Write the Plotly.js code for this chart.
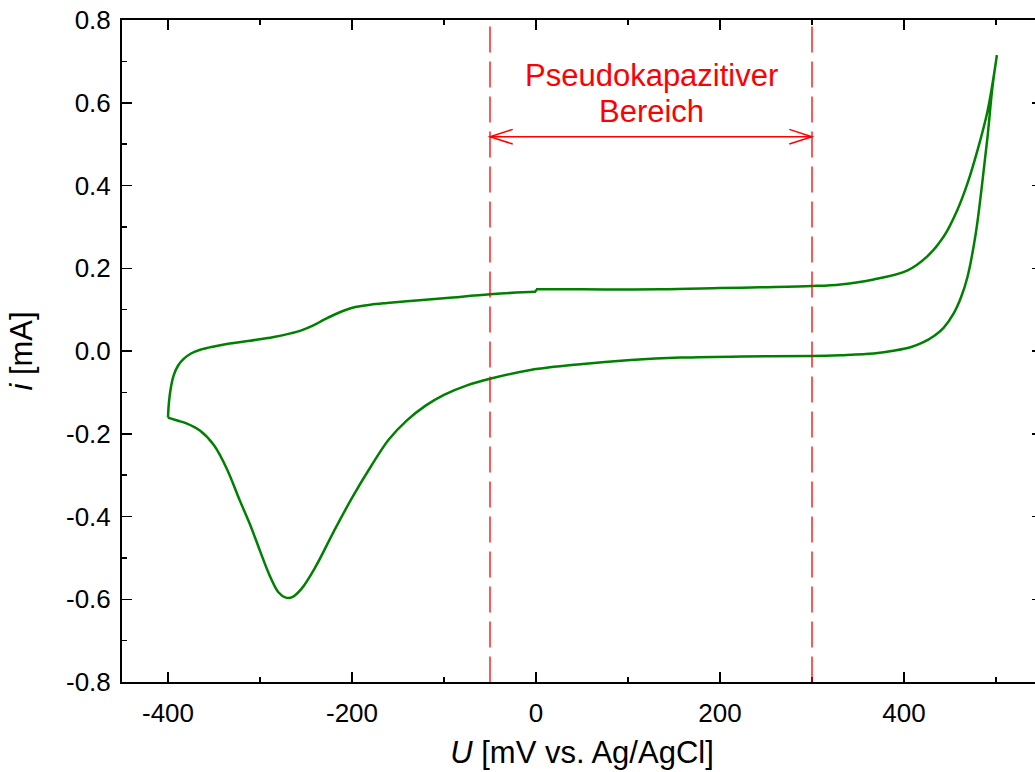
<!DOCTYPE html>
<html>
<head>
<meta charset="utf-8">
<script src="https://cdn.plot.ly/plotly-3.0.1.min.js"></script>
<style>
html, body { margin: 0; padding: 0; overflow: hidden; background: #fff; }
#chart { width: 1050px; height: 772px; }
</style>
</head>
<body>
<div id="chart"></div>
<script>
// Anodic sweep (-400 mV -> +500 mV); small current step at 0 mV
const anodicU = [-400, -399, -397, -394, -389, -383, -375, -365, -350, -333, -304, -285, -268, -255, -242, -231, -220, -207, -195, -180, -162, -130, -97, -50, -1,
                 0, 50, 135, 200, 244, 300, 331, 367, 404, 425, 443, 458, 469, 480, 491, 501];
const anodicI = [-0.161, -0.125, -0.090, -0.060, -0.035, -0.019, -0.006, 0.003, 0.011, 0.018, 0.027, 0.034, 0.042, 0.050, 0.062, 0.075, 0.087, 0.099, 0.107, 0.112, 0.116, 0.122, 0.128, 0.137, 0.143,
                 0.149, 0.149, 0.149, 0.152, 0.154, 0.157, 0.161, 0.173, 0.195, 0.228, 0.276, 0.341, 0.405, 0.486, 0.582, 0.715];
// Cathodic sweep (+500 mV -> -400 mV)
const cathodicU = [501, 496, 491, 485, 478, 469, 462, 454, 443, 433, 420, 407, 390, 367, 331, 300, 226, 157, 103, 48, -6, -50, -75, -100, -120, -140, -160, -180, -200, -220, -240, -255, -265, -272, -280, -290, -300, -310, -322, -336, -350, -365, -380, -390, -400];
const cathodicI = [0.715, 0.635, 0.522, 0.405, 0.284, 0.179, 0.13, 0.091, 0.056, 0.037, 0.020, 0.009, 0.001, -0.006, -0.010, -0.012, -0.013, -0.016, -0.022, -0.032, -0.046, -0.067, -0.083, -0.106, -0.132, -0.167, -0.214, -0.281, -0.355, -0.437, -0.523, -0.575, -0.595, -0.596, -0.583, -0.540, -0.483, -0.424, -0.361, -0.285, -0.228, -0.193, -0.175, -0.168, -0.161];

// Tick labels
const xTickVals = [-400, -200, 0, 200, 400];
const xTickText = ["-400", "-200", "0", "200", "400"];
const yTickVals = [-0.8, -0.6, -0.4, -0.2, 0.0, 0.2, 0.4, 0.6, 0.8];
const yTickText = ["-0.8", "-0.6", "-0.4", "-0.2", "0.0", "0.2", "0.4", "0.6", "0.8"];

// Pseudocapacitive region
const regionBounds = [-50, 300];
const arrowLevel = 0.518;
const regionLabel = ["Pseudokapazitiver", "Bereich"];

const red = "#ff0000";
const green = "#008000";
const font = "Liberation Sans, Arial, sans-serif";
const headLen = 24.7, headHalf = 0.0177;

// split at the current step (0 mV) so the spline does not overshoot there
const stepIdx = anodicU.findIndex(u => u >= 0);
const lineStyle = { color: green, width: 2.5, shape: "spline", smoothing: 1.0 };
const traces = [
  { x: anodicU.slice(0, stepIdx + 1), y: anodicI.slice(0, stepIdx).concat([anodicI[stepIdx - 1]]),
    type: "scatter", mode: "lines", line: lineStyle, hoverinfo: "skip" },
  { x: anodicU.slice(stepIdx).concat(cathodicU), y: anodicI.slice(stepIdx).concat(cathodicI),
    type: "scatter", mode: "lines", line: lineStyle, hoverinfo: "skip" },
  { x: [anodicU[stepIdx], anodicU[stepIdx]], y: [anodicI[stepIdx - 1], anodicI[stepIdx]],
    type: "scatter", mode: "lines", line: { color: green, width: 2.5 }, hoverinfo: "skip" }
];

const shapes = [];
regionBounds.forEach(u => {
  shapes.push({ type: "line", xref: "x", yref: "paper", x0: u, x1: u, y0: 0.99, y1: 0,
    line: { color: red, width: 1.3, dash: "26px,9px" } });
});
shapes.push({ type: "line", xref: "x", yref: "y", x0: regionBounds[0], x1: regionBounds[1], y0: arrowLevel, y1: arrowLevel,
  line: { color: red, width: 1.5 } });
const L = regionBounds[0], R = regionBounds[1];
shapes.push({ type: "path", xref: "x", yref: "y",
  path: `M ${L + headLen},${arrowLevel + headHalf} L ${L},${arrowLevel} L ${L + headLen},${arrowLevel - headHalf}`,
  line: { color: red, width: 1.5 } });
shapes.push({ type: "path", xref: "x", yref: "y",
  path: `M ${R - headLen},${arrowLevel + headHalf} L ${R},${arrowLevel} L ${R - headLen},${arrowLevel - headHalf}`,
  line: { color: red, width: 1.5 } });

const mid = (regionBounds[0] + regionBounds[1]) / 2;
const annotations = [
  { x: mid, y: 0.666, xref: "x", yref: "y", text: regionLabel[0], showarrow: false,
    font: { family: font, size: 31, color: red }, xanchor: "center", yanchor: "middle" },
  { x: mid, y: 0.58, xref: "x", yref: "y", text: regionLabel[1], showarrow: false,
    font: { family: font, size: 31, color: red }, xanchor: "center", yanchor: "middle" }
];

const axisCommon = {
  showline: true, linecolor: "#000", linewidth: 2, mirror: "ticks",
  ticks: "inside", ticklen: 10, tickwidth: 1.5, tickcolor: "#000",
  showgrid: false, zeroline: false,
  tickfont: { family: font, size: 26, color: "#000" }
};

const layout = {
  width: 1050, height: 772,
  margin: { l: 122, r: 8, t: 20, b: 90 },
  paper_bgcolor: "#fff", plot_bgcolor: "#fff",
  showlegend: false,
  font: { family: font, color: "#000" },
  xaxis: Object.assign({}, axisCommon, {
    range: [-450, 550], tickmode: "array", tickvals: xTickVals, ticktext: xTickText,
    minor: { dtick: 100, tick0: 0, ticks: "inside", ticklen: 5, tickwidth: 1.5, tickcolor: "#000", showgrid: false },
    ticklabelstandoff: 7,
    title: { text: "<i>U</i> [mV vs. Ag/AgCl]", font: { family: font, size: 31, color: "#000" }, standoff: 14 }
  }),
  yaxis: Object.assign({}, axisCommon, {
    range: [-0.8, 0.8], tickmode: "array", tickvals: yTickVals, ticktext: yTickText,
    minor: { dtick: 0.1, tick0: 0, ticks: "inside", ticklen: 5, tickwidth: 1.5, tickcolor: "#000", showgrid: false },
    ticklabelstandoff: 4,
    title: { text: "<i>i</i> [mA]", font: { family: font, size: 31, color: "#000" }, standoff: 24 }
  }),
  shapes: shapes,
  annotations: annotations
};

Plotly.newPlot("chart", traces, layout, { displayModeBar: false, staticPlot: true });
</script>
</body>
</html>
